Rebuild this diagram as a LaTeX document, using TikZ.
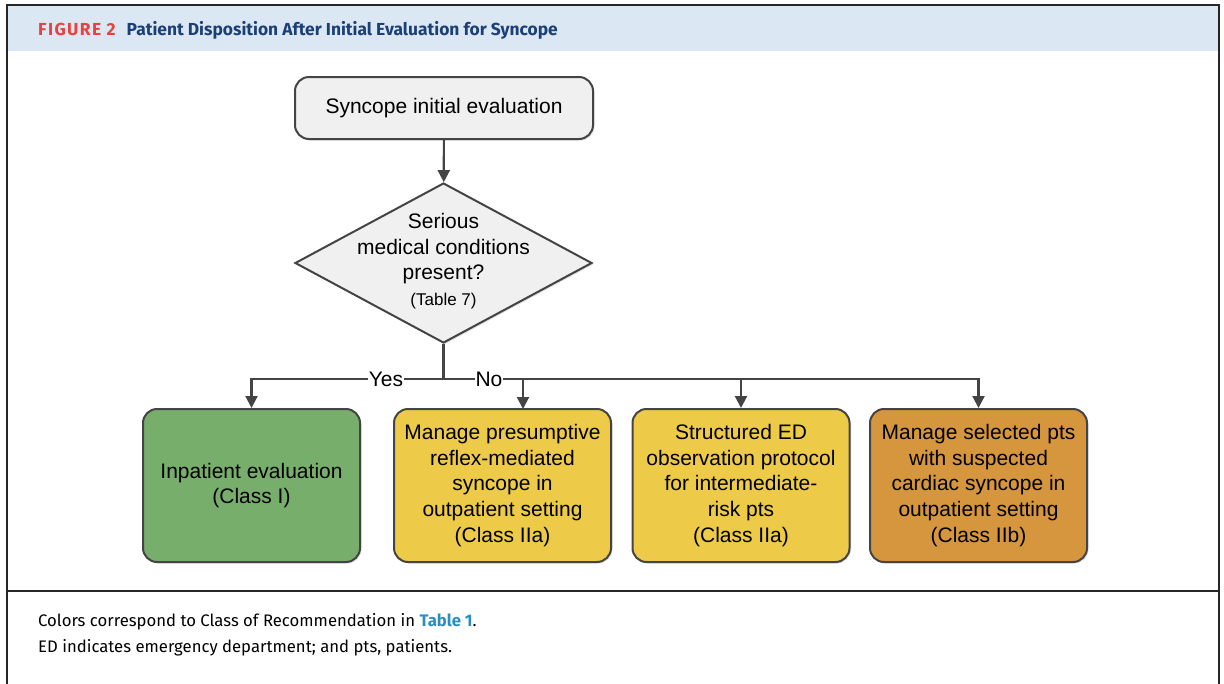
\documentclass[tikz,border=0pt]{standalone}
\usepackage{fontspec}
\setmainfont{Liberation Sans}
\newfontfamily\headfont{Fira Sans}
\usetikzlibrary{arrows.meta,shapes.geometric,shadows}
\definecolor{linec}{HTML}{444444}
\definecolor{greyfill}{HTML}{F0F0F0}
\definecolor{greenfill}{HTML}{78AE6C}
\definecolor{yellowfill}{HTML}{EDCB49}
\definecolor{orangefill}{HTML}{D5963D}
\definecolor{bandblue}{HTML}{DBE8F4}
\definecolor{figred}{HTML}{E8413F}
\definecolor{titlenavy}{HTML}{1C3F78}
\definecolor{linkblue}{HTML}{2A8FC0}
\tikzset{
  boxfont/.style={font=\fontsize{21}{25.7}\selectfont},
  recbox/.style={draw=linec, line width=2pt, rounded corners=14pt,
    minimum width=217pt, minimum height=153pt, inner sep=0pt, align=center,
    boxfont, drop shadow={shadow xshift=1.5pt, shadow yshift=-1.5pt, opacity=0.25}},
  startbox/.style={recbox, fill=greyfill, minimum width=298pt, minimum height=62pt},
  decision/.style={diamond, draw=linec, line width=2pt, fill=greyfill,
    minimum width=297pt, minimum height=160pt, inner sep=0pt, aspect=1.86,
    drop shadow={shadow xshift=1.5pt, shadow yshift=-1.5pt, opacity=0.25}},
  conn/.style={draw=linec, line width=2.2pt},
  arr/.style={conn, -{Triangle[length=12pt,width=12pt]}},
  branchlabel/.style={fill=white, inner sep=1pt, boxfont},
  frameline/.style={draw=black!85, line width=2.5pt},
  foottext/.style={anchor=west, inner sep=0pt, font=\headfont\fontsize{16.7}{20}\selectfont},
}
\begin{document}
\begin{tikzpicture}[x=1pt,y=-1pt]
\useasboundingbox (0,0) rectangle (1224,683);
% frame and header
\fill[bandblue] (7,5) rectangle (1219,51);
\draw[frameline] (7,700) -- (7,5) -- (1219,5) -- (1219,700);
\draw[frameline, line width=2pt] (7,591) -- (1219,591);
\node[anchor=west, inner sep=0pt] (title) at (38,30)
  {\headfont\bfseries\fontsize{17.4}{20}\selectfont
   \textcolor{figred}{F\kern1.4pt I\kern1.4pt G\kern1.4pt U\kern1.4pt R\kern1.4pt E\kern1.4pt\ 2}\hspace{11pt}\textcolor{titlenavy}{Patient Disposition After Initial Evaluation for Syncope}};
% flowchart
\node[startbox] (start) at (444,108) {Syncope initial evaluation};
\node[decision] (dia) at (443.5,263) {};
\node[align=center, inner sep=0pt, boxfont] (diatext) at (443.5,261)
  {Serious\\medical conditions\\present?\\{\fontsize{17}{20}\selectfont (Table 7)}};
\node[recbox, fill=greenfill] (b1) at (251.5,485.5) {Inpatient evaluation\\(Class I)};
\node[recbox, fill=yellowfill] (b2) at (502.5,485.5) {Manage presumptive\\reflex-mediated\\syncope in\\outpatient setting\\(Class IIa)};
\node[recbox, fill=yellowfill] (b3) at (741,485.5) {Structured ED\\observation protocol\\for intermediate-\\risk pts\\(Class IIa)};
\node[recbox, fill=orangefill] (b4) at (978.5,485.5) {Manage selected pts\\with suspected\\cardiac syncope in\\outpatient setting\\(Class IIb)};
\coordinate (j) at (443.5,379);
\coordinate (a2) at (523,409);
\draw[arr] (start) -- (dia);
\draw[conn] (dia.south) -- (j);
\draw[arr] (j) -| (b1.north);
\draw[arr] (j) -| (a2);
\draw[arr] (j) -| (b3.north);
\draw[arr] (j) -| (b4.north);
\node[branchlabel] (yes) at (386,379) {Yes};
\node[branchlabel] (no) at (489,379) {No};
% footer
\node[foottext] (foot1) at (38,622)
  {Colors correspond to Class of Recommendation in \textcolor{linkblue}{\bfseries Table 1}.};
\node[foottext] (foot2) at (38,648)
  {ED indicates emergency department; and pts, patients.};
\end{tikzpicture}
\end{document}
